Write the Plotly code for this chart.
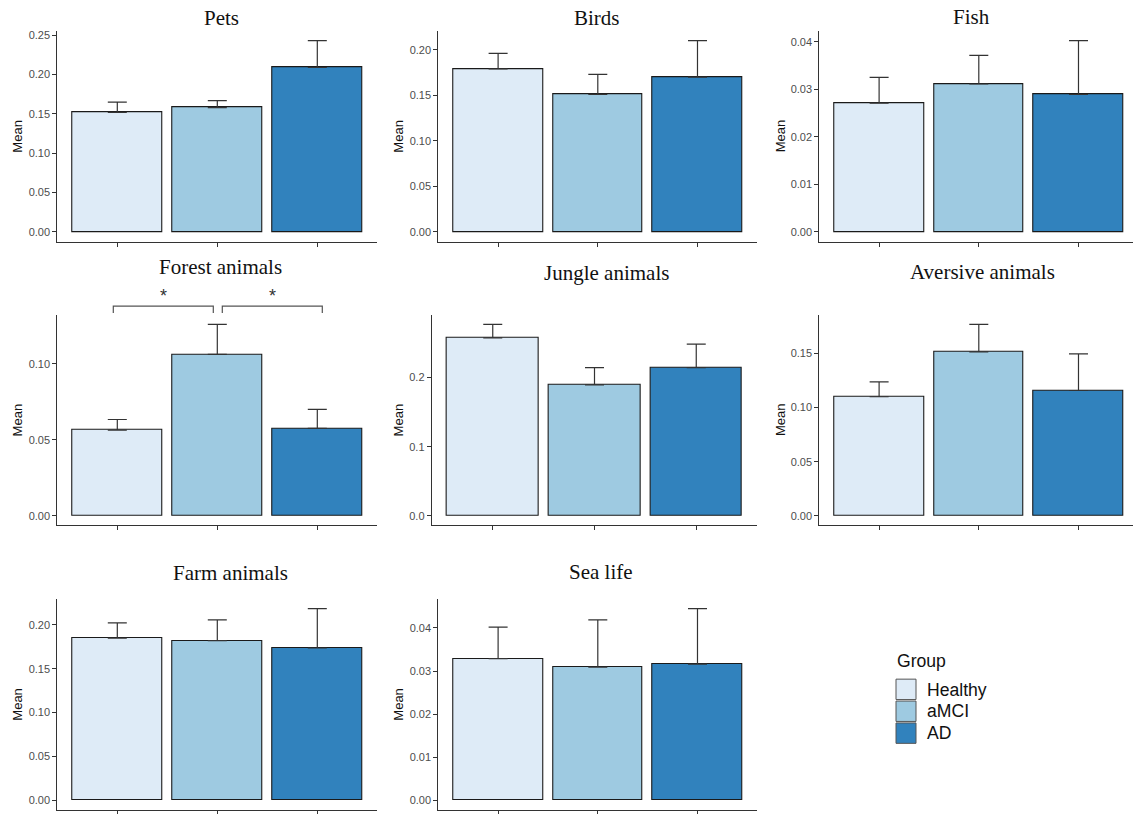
import plotly.graph_objects as go

W, H = 1133, 814

groups = ["Healthy", "aMCI", "AD"]
group_colors = ["#DEEBF7", "#9ECAE1", "#3182BD"]

panel_names = ["Pets", "Birds", "Fish", "Forest animals", "Jungle animals",
               "Aversive animals", "Farm animals", "Sea life"]

# mean and standard error per group (Healthy, aMCI, AD)
pets_mean = [0.152, 0.158, 0.209]
pets_se = [0.013, 0.009, 0.034]
birds_mean = [0.179, 0.151, 0.170]
birds_se = [0.017, 0.022, 0.040]
fish_mean = [0.0271, 0.0311, 0.0289]
fish_se = [0.0054, 0.0060, 0.0113]
forest_mean = [0.0564, 0.1063, 0.0575]
forest_se = [0.0070, 0.0197, 0.0125]
jungle_mean = [0.2574, 0.1895, 0.2144]
jungle_se = [0.0196, 0.0249, 0.0339]
aversive_mean = [0.110, 0.1515, 0.1158]
aversive_se = [0.0137, 0.0254, 0.0339]
farm_mean = [0.1849, 0.1819, 0.1736]
farm_se = [0.0174, 0.0238, 0.0449]
sea_mean = [0.0329, 0.0309, 0.0316]
sea_se = [0.0073, 0.0110, 0.0129]

panel_means = [pets_mean, birds_mean, fish_mean, forest_mean, jungle_mean,
               aversive_mean, farm_mean, sea_mean]
panel_se = [pets_se, birds_se, fish_se, forest_se, jungle_se,
            aversive_se, farm_se, sea_se]

tick_step = [0.05, 0.05, 0.01, 0.05, 0.1, 0.05, 0.05, 0.01]
tick_fmt = [".2f", ".2f", ".2f", ".2f", ".1f", ".2f", ".2f", ".2f"]

# significance comparisons in the forest panel (x span of each bracket)
forest_brackets = [(0.96, 1.96), (2.05, 3.05)]
forest_labels = ["*", "*"]

# panel frames in pixels: left, right, top, bottom
frames = [
    (57.3, 377.3, 29.3, 240.7),
    (438.3, 757.3, 29.3, 240.7),
    (819.3, 1138.3, 29.3, 240.7),
    (57.3, 377.3, 314.3, 526.0),
    (431.7, 757.3, 314.3, 526.0),
    (819.3, 1138.3, 314.3, 526.0),
    (57.3, 377.3, 600.0, 811.7),
    (438.3, 757.3, 600.0, 811.7),
]
title_pos = [(221.7, 16.3), (597, 16), (971.3, 15), (220.8, 266.7),
             (606.7, 272.7), (982, 271), (230, 574.3), (600.5, 573.3)]
ylabel_x = [17.3, 398.3, 780, 17.3, 398.3, 780, 17.3, 398.3]

AX = "#333333"
TICKFONT = dict(family="Liberation Sans, Arial, sans-serif", size=11, color="#4D4D4D")

fig = go.Figure()
annotations = []
shapes = []
x_ranges, y_ranges = [], []

for i, name in enumerate(panel_names):
    n = i + 1
    sfx = "" if n == 1 else str(n)
    left, right, top, bottom = frames[i]
    vis_right = min(right, W)
    xr = [0.4, 0.4 + 3.2 * (vis_right - left) / (right - left)]
    means, se = panel_means[i], panel_se[i]
    ymax = max(m + s for m, s in zip(means, se))
    yr = [-0.05 * ymax, 1.05 * ymax]
    x_ranges.append((left, vis_right, xr))
    y_ranges.append((top, bottom, yr))

    fig.add_trace(go.Bar(
        x=[1, 2, 3], y=means, width=0.9,
        marker=dict(color=group_colors, line=dict(color="#1a1a1a", width=1.1)),
        error_y=dict(type="data", symmetric=False, array=se, arrayminus=[0, 0, 0],
                     width=9.5, thickness=1.2, color="#333333"),
        xaxis="x" + sfx, yaxis="y" + sfx, showlegend=False, hoverinfo="y",
    ))

    fig.layout["xaxis" + sfx] = dict(
        domain=[left / W, vis_right / W], range=xr, anchor="y" + sfx,
        showline=True, linecolor=AX, linewidth=1, showgrid=False, zeroline=False,
        tickmode="array", tickvals=[1, 2, 3], ticktext=["", "", ""],
        ticks="outside", ticklen=4, tickcolor=AX, tickwidth=1, fixedrange=True,
    )
    fig.layout["yaxis" + sfx] = dict(
        domain=[1 - bottom / H, 1 - top / H], range=yr, anchor="x" + sfx,
        showline=True, linecolor=AX, linewidth=1, showgrid=False, zeroline=False,
        tick0=0, dtick=tick_step[i], tickformat=tick_fmt[i],
        ticks="outside", ticklen=4, tickcolor=AX, tickwidth=1,
        tickfont=TICKFONT, fixedrange=True,
    )

    cx, cy = title_pos[i]
    annotations.append(dict(
        text=name, x=cx / W, y=1 - cy / H, xref="paper", yref="paper",
        xanchor="center", yanchor="middle", showarrow=False,
        font=dict(family="Liberation Serif, Times New Roman, serif", size=21, color="#111111"),
    ))
    annotations.append(dict(
        text="Mean", x=ylabel_x[i] / W, y=1 - (top + bottom) / 2 / H,
        xref="paper", yref="paper", xanchor="center", yanchor="middle",
        textangle=-90, showarrow=False,
        font=dict(family="Liberation Sans, Arial, sans-serif", size=13, color="#111111"),
    ))


def data_to_paper(panel, xv, yv):
    left, vis_right, xr = x_ranges[panel]
    top, bottom, yr = y_ranges[panel]
    px = left + (xv - xr[0]) / (xr[1] - xr[0]) * (vis_right - left)
    py = bottom - (yv - yr[0]) / (yr[1] - yr[0]) * (bottom - top)
    return px / W, 1 - py / H


# significance brackets above the forest panel
bracket_y, tip_y, star_y = 0.138, 0.1335, 0.1445
for (x0, x1), lab in zip(forest_brackets, forest_labels):
    p0 = data_to_paper(3, x0, tip_y)
    p1 = data_to_paper(3, x0, bracket_y)
    p2 = data_to_paper(3, x1, bracket_y)
    p3 = data_to_paper(3, x1, tip_y)
    path = "M {} {} L {} {} L {} {} L {} {}".format(p0[0], p0[1], p1[0], p1[1],
                                                    p2[0], p2[1], p3[0], p3[1])
    shapes.append(dict(type="path", path=path, xref="paper", yref="paper",
                       line=dict(color="#555555", width=1.2)))
    sx, sy = data_to_paper(3, (x0 + x1) / 2, star_y)
    annotations.append(dict(
        text=lab, x=sx, y=sy, xref="paper", yref="paper", showarrow=False,
        xanchor="center", yanchor="middle",
        font=dict(family="Liberation Sans, Arial, sans-serif", size=18, color="#333333"),
    ))

# legend
LEG_FONT = dict(family="Liberation Sans, Arial, sans-serif", size=17.6, color="#111111")
annotations.append(dict(text="Group", x=895 / W, y=1 - 662 / H, xref="paper", yref="paper",
                        xanchor="left", yanchor="middle", showarrow=False, font=LEG_FONT))
key_top = 680.5
for k, (g, c) in enumerate(zip(groups, group_colors)):
    y0 = key_top + k * 22
    shapes.append(dict(type="rect", xref="paper", yref="paper",
                       x0=896 / W, x1=916 / W, y0=1 - y0 / H, y1=1 - (y0 + 20.5) / H,
                       fillcolor=c, line=dict(color="#555555", width=1)))
    annotations.append(dict(text=g, x=925 / W, y=1 - (y0 + 10.5) / H, xref="paper",
                            yref="paper", xanchor="left", yanchor="middle",
                            showarrow=False, font=LEG_FONT))

fig.update_layout(
    width=W, height=H, autosize=False,
    margin=dict(l=0, r=0, t=0, b=0),
    paper_bgcolor="white", plot_bgcolor="white",
    annotations=annotations, shapes=shapes,
    showlegend=False, bargap=0,
)

fig.write_html("out.html")
